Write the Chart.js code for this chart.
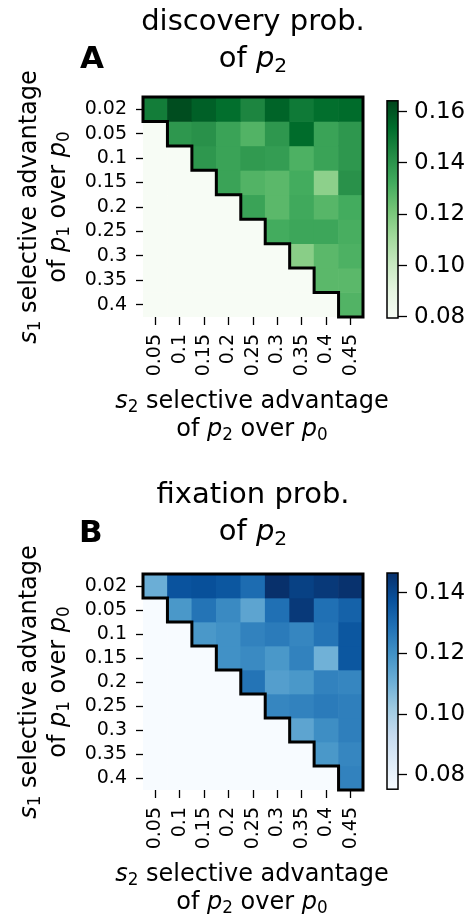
<!DOCTYPE html>
<html>
<head>
<meta charset="utf-8">
<script src="https://cdn.jsdelivr.net/npm/chart.js@4.4.0/dist/chart.umd.min.js"></script>
<style>
  body { margin:0; background:#fff; width:475px; height:919px; position:relative; overflow:hidden;
         font-family:"DejaVu Sans", sans-serif; color:#000; }
  canvas { position:absolute; }
  .t { position:absolute; text-align:center; white-space:nowrap; }
  .title { font-size:29px; line-height:37px; left:53px; width:400px; }
  .xlab { font-size:24px; line-height:28px; left:52px; width:400px; }
  .ylab { font-size:24px; line-height:29px; width:400px; height:58px; left:-157px; transform:rotate(-90deg); }
  .letter { position:absolute; font-size:31px; font-weight:bold; line-height:31px; }
  sub { font-size:0.7em; vertical-align:-0.25em; line-height:0; }
</style>
</head>
<body>
<canvas id="heatA" width="475" height="460" style="left:0;top:0"></canvas>
<canvas id="barA" width="95" height="260" style="left:380px;top:80px"></canvas>
<canvas id="heatB" width="475" height="459" style="left:0;top:460px"></canvas>
<canvas id="barB" width="95" height="260" style="left:380px;top:550px"></canvas>

<div class="t title" style="top:2px">discovery prob.<br>of <i>p</i><sub>2</sub></div>
<div class="letter" style="left:80px;top:42px">A</div>
<div class="t ylab" style="top:178px"><i>s</i><sub>1</sub> selective advantage<br>of <i>p</i><sub>1</sub> over <i>p</i><sub>0</sub></div>
<div class="t xlab" style="top:386px"><i>s</i><sub>2</sub> selective advantage<br>of <i>p</i><sub>2</sub> over <i>p</i><sub>0</sub></div>

<div class="t title" style="top:475px">fixation prob.<br>of <i>p</i><sub>2</sub></div>
<div class="letter" style="left:79px;top:516px">B</div>
<div class="t ylab" style="top:653px"><i>s</i><sub>1</sub> selective advantage<br>of <i>p</i><sub>1</sub> over <i>p</i><sub>0</sub></div>
<div class="t xlab" style="top:859px"><i>s</i><sub>2</sub> selective advantage<br>of <i>p</i><sub>2</sub> over <i>p</i><sub>0</sub></div>

<script>
// rows: s1 (selective advantage of p1), columns: s2 (selective advantage of p2)
const s1Labels = ['0.02', '0.05', '0.1', '0.15', '0.2', '0.25', '0.3', '0.35', '0.4'];
const s2Labels = ['0.05', '0.1', '0.15', '0.2', '0.25', '0.3', '0.35', '0.4', '0.45'];

// discovery probability of p2 (null = not simulated, s2 <= s1)
const discovery = [
  [0.148, 0.162, 0.157, 0.153, 0.145, 0.156, 0.149, 0.153, 0.154],
  [null, 0.139, 0.141, 0.135, 0.129, 0.139, 0.154, 0.135, 0.139],
  [null, null, 0.139, 0.135, 0.138, 0.137, 0.130, 0.135, 0.139],
  [null, null, null, 0.135, 0.129, 0.127, 0.132, 0.116, 0.141],
  [null, null, null, null, 0.135, 0.127, 0.133, 0.128, 0.132],
  [null, null, null, null, null, 0.132, 0.134, 0.134, 0.131],
  [null, null, null, null, null, null, 0.117, 0.127, 0.130],
  [null, null, null, null, null, null, null, 0.127, 0.127],
  [null, null, null, null, null, null, null, null, 0.129]
];

// fixation probability of p2
const fixation = [
  [0.111, 0.137, 0.138, 0.136, 0.130, 0.147, 0.142, 0.144, 0.146],
  [null, 0.118, 0.128, 0.122, 0.114, 0.129, 0.144, 0.129, 0.133],
  [null, null, 0.118, 0.120, 0.124, 0.126, 0.123, 0.128, 0.136],
  [null, null, null, 0.120, 0.122, 0.118, 0.124, 0.110, 0.136],
  [null, null, null, null, 0.128, 0.116, 0.118, 0.124, 0.123],
  [null, null, null, null, null, 0.123, 0.124, 0.126, 0.125],
  [null, null, null, null, null, null, 0.114, 0.121, 0.125],
  [null, null, null, null, null, null, null, 0.118, 0.123],
  [null, null, null, null, null, null, null, null, 0.124]
];

const discoveryRange = [0.0796, 0.1642];
const fixationRange = [0.0753, 0.1465];
const discoveryTicks = [0.08, 0.10, 0.12, 0.14, 0.16];
const fixationTicks = [0.08, 0.10, 0.12, 0.14];

// matplotlib Greens / Blues
const greens = ['#f7fcf5','#e5f5e0','#c7e9c0','#a1d99b','#74c476','#41ab5d','#238b45','#006d2c','#00441b'];
const blues  = ['#f7fbff','#deebf7','#c6dbef','#9ecae1','#6baed6','#4292c6','#2171b5','#08519c','#08306b'];

const FONT = '"DejaVu Sans", sans-serif';

const hexToRgb = (h) => [1, 3, 5].map(i => parseInt(h.slice(i, i + 2), 16));
const cmap = (stops, t) => {
  t = Math.min(1, Math.max(0, t));
  const p = t * (stops.length - 1);
  const i = Math.min(Math.floor(p), stops.length - 2);
  const f = p - i;
  const a = hexToRgb(stops[i]), b = hexToRgb(stops[i + 1]);
  return `rgb(${a.map((v, k) => Math.round(v + (b[k] - v) * f)).join(',')})`;
};

// black staircase outline around the simulated cells
const stairOutline = {
  id: 'stairOutline',
  afterDatasetsDraw(chart, args, opts) {
    const { x, y } = chart.scales;
    const rows = opts.rows;
    const n = rows.length, m = s2Labels.length;
    const slot = x.width / m;
    const colL = j => x.getPixelForValue(j) - slot / 2;
    const colR = j => x.getPixelForValue(j) + slot / 2;
    const top = i => y.getPixelForValue(i - 0.5);
    const bot = i => y.getPixelForValue(i + 0.5);
    const first = rows.map(r => r.findIndex(v => v !== null));
    const ctx = chart.ctx;
    ctx.save();
    ctx.beginPath();
    ctx.moveTo(colL(first[0]), top(0));
    ctx.lineTo(colR(m - 1), top(0));
    ctx.lineTo(colR(m - 1), bot(n - 1));
    ctx.lineTo(colL(first[n - 1]), bot(n - 1));
    for (let i = n - 1; i >= 0; i--) {
      ctx.lineTo(colL(first[i]), top(i));
      if (i > 0) ctx.lineTo(colL(first[i - 1]), top(i));
    }
    ctx.closePath();
    ctx.lineWidth = 3;
    ctx.lineJoin = 'miter';
    ctx.strokeStyle = '#000';
    ctx.stroke();
    ctx.restore();
  }
};

const frame = {
  id: 'frame',
  afterDatasetsDraw(chart) {
    const a = chart.chartArea, ctx = chart.ctx;
    ctx.save();
    ctx.lineWidth = 1.5;
    ctx.strokeStyle = '#000';
    ctx.strokeRect(a.left, a.top, a.right - a.left, a.bottom - a.top);
    ctx.restore();
  }
};

const heatmap = (id, rows, stops, range, pad) => {
  const [lo, hi] = range;
  const datasets = rows.map((row, i) => ({
    data: row.map(() => [i - 0.5, i + 0.5]),
    backgroundColor: row.map(v => cmap(stops, v === null ? 0 : (v - lo) / (hi - lo))),
    borderWidth: 0,
    barPercentage: 1,
    categoryPercentage: 1,
    grouped: false
  }));

  new Chart(document.getElementById(id), {
    type: 'bar',
    data: { labels: s2Labels, datasets },
    options: {
      responsive: false,
      animation: false,
      events: [],
      layout: { padding: { top: pad.top, right: pad.right, left: 0, bottom: 0 } },
      plugins: { legend: { display: false }, tooltip: { enabled: false }, stairOutline: { rows } },
      scales: {
        x: {
          type: 'category',
          offset: true,
          border: { display: false },
          grid: { offset: false, drawOnChartArea: false, tickLength: 8, tickWidth: 1.3, tickColor: '#000' },
          ticks: { autoSkip: false, minRotation: 90, maxRotation: 90, padding: 9, color: '#000',
                   font: { family: FONT, size: 19 } },
          afterFit: (s) => { s.height = pad.xAxis; }
        },
        y: {
          type: 'linear',
          reverse: true,
          min: -0.5,
          max: rows.length - 0.5,
          border: { display: false },
          grid: { drawOnChartArea: false, tickLength: 7, tickWidth: 1.3, tickColor: '#000' },
          afterBuildTicks: (s) => { s.ticks = s1Labels.map((_, i) => ({ value: i })); },
          ticks: { autoSkip: false, padding: 9, color: '#000', font: { family: FONT, size: 19 },
                   callback: (v) => s1Labels[v] },
          afterFit: (s) => { s.width = pad.yAxis; }
        }
      }
    },
    plugins: [stairOutline]
  });
};

const colorbar = (id, stops, range, ticks, pad) => {
  const [lo, hi] = range;
  new Chart(document.getElementById(id), {
    type: 'bar',
    data: {
      labels: [''],
      datasets: [{
        data: [[lo, hi]],
        backgroundColor: (c) => {
          const a = c.chart.chartArea;
          if (!a) return stops[0];
          const g = c.chart.ctx.createLinearGradient(0, a.bottom, 0, a.top);
          stops.forEach((col, i) => g.addColorStop(i / (stops.length - 1), col));
          return g;
        },
        borderWidth: 0,
        barPercentage: 1,
        categoryPercentage: 1
      }]
    },
    options: {
      responsive: false,
      animation: false,
      events: [],
      layout: { padding: { left: pad.left, top: pad.top, bottom: pad.bottom, right: 0 } },
      plugins: { legend: { display: false }, tooltip: { enabled: false } },
      scales: {
        x: { display: false },
        y: {
          position: 'right',
          min: lo,
          max: hi,
          border: { display: false },
          grid: { drawOnChartArea: false, tickLength: 9, tickWidth: 1.3, tickColor: '#000' },
          afterBuildTicks: (s) => { s.ticks = ticks.map(v => ({ value: v })); },
          ticks: { padding: 7, color: '#000', font: { family: FONT, size: 23 },
                   callback: (v) => v.toFixed(2) },
          afterFit: (s) => { s.width = pad.axis; }
        }
      }
    },
    plugins: [frame]
  });
};

heatmap('heatA', discovery, greens, discoveryRange, { top: 97, right: 112, xAxis: 143, yAxis: 143 });
heatmap('heatB', fixation, blues, fixationRange, { top: 114, right: 112, xAxis: 129, yAxis: 143 });
colorbar('barA', greens, discoveryRange, discoveryTicks, { left: 7, top: 17, bottom: 22, axis: 77 });
colorbar('barB', blues, fixationRange, fixationTicks, { left: 7, top: 23, bottom: 20, axis: 77 });
</script>
</body>
</html>
